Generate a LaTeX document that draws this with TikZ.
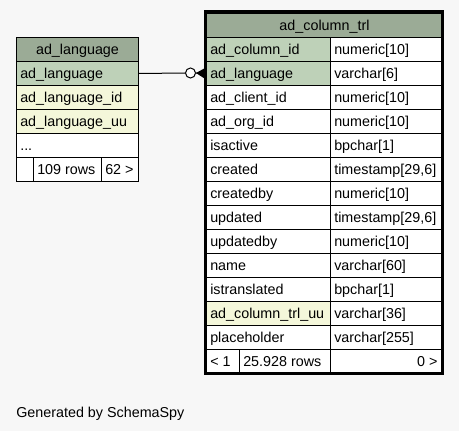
\documentclass[tikz,border=0pt]{standalone}
\usepackage{fontspec}
\setmainfont{Liberation Sans}
\definecolor{bgc}{HTML}{F7F7F7}
\definecolor{hdr}{HTML}{9BAB96}
\definecolor{keyc}{HTML}{BED1B8}
\definecolor{idx}{HTML}{F4F7DA}
\tikzset{
  box/.style={draw=black, line width=0.75pt, anchor=north west, inner sep=0pt, minimum height=18pt},
  txt/.style={font=\fontsize{10.75}{12}\selectfont, inner sep=0pt},
}
% name, x, y, width(px), fill, text
\newcommand\cellL[6]{%
  \node[box, fill=#5, minimum width=#4*0.75pt] (#1) at (#2,#3) {};
  \node[txt, anchor=base west] (#1t) at ([xshift=3pt,yshift=-3.75pt]#1.west) {#6};}
\newcommand\cellC[6]{%
  \node[box, fill=#5, minimum width=#4*0.75pt] (#1) at (#2,#3) {};
  \node[txt, anchor=base] (#1t) at ([yshift=-3.75pt]#1.center) {#6};}
\newcommand\cellR[6]{%
  \node[box, fill=#5, minimum width=#4*0.75pt] (#1) at (#2,#3) {};
  \node[txt, anchor=base east] (#1t) at ([xshift=-4pt,yshift=-3.75pt]#1.east) {#6};}
\begin{document}
\begin{tikzpicture}[x=0.75pt,y=-0.75pt]
\useasboundingbox[fill=bgc] (0,0) rectangle (459,431);
% left table
\cellC{Lh}{16}{37}{122}{hdr}{ad\_language}
\cellL{L1}{16}{61}{122}{keyc}{ad\_language}
\cellL{L2}{16}{85}{122}{idx}{ad\_language\_id}
\cellL{L3}{16}{109}{122}{idx}{ad\_language\_uu}
\cellL{L4}{16}{133}{122}{white}{...}
\cellL{Lf1}{16}{157}{17}{white}{}
\cellL{Lf2}{33}{157}{68}{white}{109 rows}
\cellL{Lf3}{101}{157}{37}{white}{62 >}
% right table
\cellC{Rh}{206}{13}{236}{hdr}{ad\_column\_trl}
\foreach \n/\t/\f [count=\i from 0] in {
  ad\_column\_id/numeric[10]/keyc,
  ad\_language/varchar[6]/keyc,
  ad\_client\_id/numeric[10]/white,
  ad\_org\_id/numeric[10]/white,
  isactive/bpchar[1]/white,
  created/timestamp[29{,}6]/white,
  createdby/numeric[10]/white,
  updated/timestamp[29{,}6]/white,
  updatedby/numeric[10]/white,
  name/varchar[60]/white,
  istranslated/bpchar[1]/white,
  ad\_column\_trl\_uu/varchar[36]/idx,
  placeholder/varchar[255]/white}{
  \pgfmathsetmacro\yy{37+24*\i}
  \cellL{Rn\i}{206}{\yy}{124}{\f}{\n}
  \cellL{Rt\i}{330}{\yy}{112}{white}{\t}
}
\cellL{Rf1}{206}{349}{33}{white}{< 1}
\cellL{Rf2}{239}{349}{91}{white}{25.928 rows}
\cellR{Rf3}{330}{349}{112}{white}{0 >}
\draw[line width=2.25pt] (205,11.5) rectangle (442.5,373.5);
% connector
\node[circle, draw=black, fill=white, line width=0.75pt, minimum size=7.5pt, inner sep=0pt] (odot) at (190.5,73) {};
\draw[line width=0.75pt] (L1.east) -- (odot.west);
\draw[line width=0.75pt] (odot.east) -- (Rn1.west);
\fill (odot.east) -- ([yshift=4.5pt]Rn1.west) -- ([yshift=-4.5pt]Rn1.west) -- cycle;
% footer
\node[txt, anchor=base west] (gen) at (16,417) {Generated by SchemaSpy};
\end{tikzpicture}
\end{document}
